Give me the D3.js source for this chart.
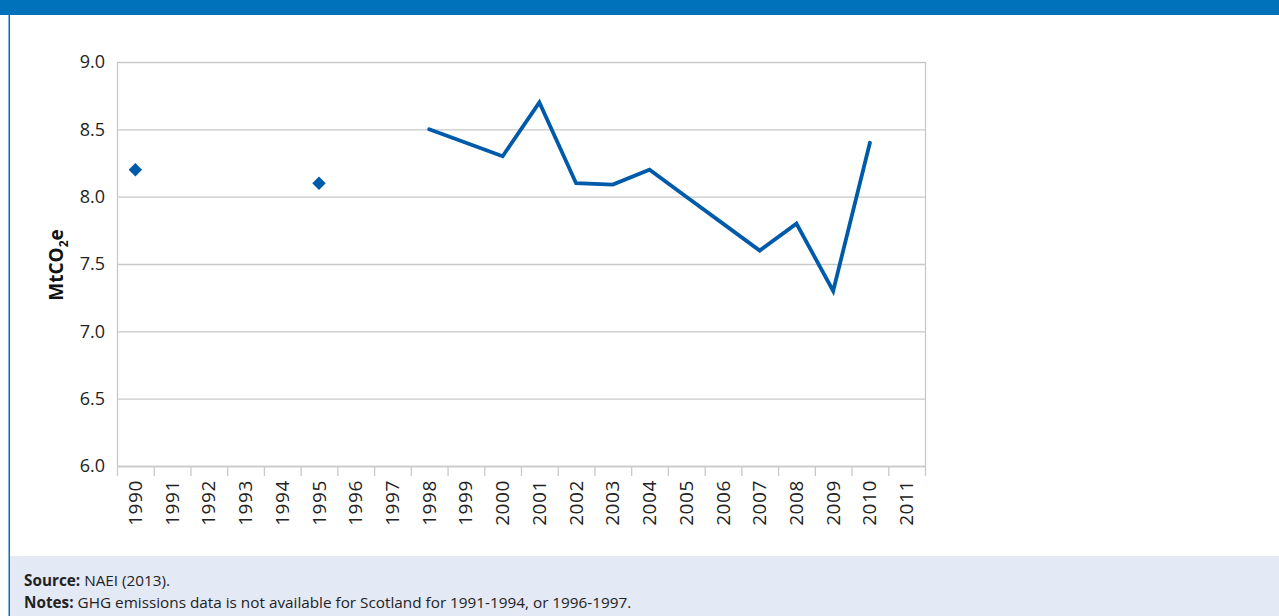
<!DOCTYPE html>
<html><head><meta charset="utf-8">
<script src="https://cdn.jsdelivr.net/npm/d3@7"></script>
<style>body{margin:0;background:#fff;overflow:hidden}svg{display:block}</style>
</head><body>
<svg id="c" width="1279" height="616"></svg>
<script>
const years = ["1990","1991","1992","1993","1994","1995","1996","1997","1998","1999","2000","2001","2002","2003","2004","2005","2006","2007","2008","2009","2010","2011"];
const emissions = [8.2,null,null,null,null,8.1,null,null,8.5,8.4,8.3,8.7,8.1,8.09,8.2,8.0,7.8,7.6,7.8,7.3,8.4,null];
const yTicks = [6.0,6.5,7.0,7.5,8.0,8.5,9.0];
const footer = [
  {label:"Source:", text:"NAEI (2013)."},
  {label:"Notes:", text:"GHG emissions data is not available for Scotland for 1991-1994, or 1996-1997."}
];

const svg = d3.select("#c");
const W=1279,H=616;
const blue="#0072bc", lineBlue="#005aaa";
svg.append("rect").attr("x",0).attr("y",0).attr("width",W).attr("height",15).attr("fill",blue);
svg.append("rect").attr("x",8.5).attr("y",15).attr("width",1.5).attr("height",H-15).attr("fill",blue);
svg.append("rect").attr("x",10).attr("y",556).attr("width",W-10).attr("height",60).attr("fill","#e4e9f6");

const m={l:117,r:925,t:62,b:466};
const x=d3.scaleBand().domain(years).range([m.l,m.r]);
const y=d3.scaleLinear().domain([6,9]).range([m.b,m.t]);

const g=svg.append("g");
g.selectAll(".grid").data(yTicks).enter().append("line")
 .attr("x1",m.l).attr("x2",m.r).attr("y1",d=>y(d)+0.5).attr("y2",d=>y(d)+0.5)
 .attr("stroke","#c9c9c9").attr("stroke-width",1.3);
g.append("line").attr("x1",m.r+0.5).attr("x2",m.r+0.5).attr("y1",m.t).attr("y2",m.b).attr("stroke","#c9c9c9").attr("stroke-width",1.3);
g.append("line").attr("x1",m.l+0.5).attr("x2",m.l+0.5).attr("y1",m.t).attr("y2",m.b).attr("stroke","#c9c9c9").attr("stroke-width",1.3);

const yAxis=d3.axisLeft(y).tickValues(yTicks).tickFormat(d3.format(".1f")).tickSize(0).tickPadding(12);
const ya=g.append("g").attr("transform",`translate(${m.l},0)`).call(yAxis);
ya.select(".domain").remove();
ya.selectAll("text").attr("font-family","Open Sans").attr("font-size",18).attr("fill","#222");

const xa=g.append("g").attr("transform",`translate(0,${m.b})`);
const bounds=years.map(d=>x(d)).concat([m.r]);
xa.selectAll(".tk").data(bounds).enter().append("line")
  .attr("x1",d=>d+0.5).attr("x2",d=>d+0.5).attr("y1",0).attr("y2",10).attr("stroke","#c9c9c9").attr("stroke-width",1.3);
xa.append("line").attr("x1",m.l).attr("x2",m.r).attr("y1",0.5).attr("y2",0.5).attr("stroke","#c9c9c9").attr("stroke-width",1.3);
xa.selectAll(".lbl").data(years).enter().append("text")
  .attr("transform",d=>`translate(${x(d)+x.bandwidth()/2+6.5},14) rotate(-90)`)
  .attr("text-anchor","end").attr("font-family","Open Sans").attr("font-size",19).attr("letter-spacing",0.6).attr("fill","#222").text(d=>d);

const yt=svg.append("text").attr("transform","translate(63,265) rotate(-90)").attr("text-anchor","middle")
 .attr("font-family","Open Sans").attr("font-weight","bold").attr("font-size",19).attr("fill","#111");
yt.append("tspan").text("MtCO");
yt.append("tspan").attr("font-size",12).attr("dy",5).text("2");
yt.append("tspan").attr("dy",-5).text("e");

const pts=years.map((d,i)=>({d,v:emissions[i]}));
const line=d3.line().defined(p=>p.v!=null).x(p=>x(p.d)+x.bandwidth()/2).y(p=>y(p.v));
const lineData=pts.filter(p=>+p.d>=1998);
g.append("path").datum(lineData).attr("d",line).attr("fill","none").attr("stroke",lineBlue).attr("stroke-width",3.8).attr("stroke-linejoin","miter").attr("stroke-linecap","round");
const isolated=pts.filter((p,i)=>p.v!=null && (i===0||emissions[i-1]==null) && (i===pts.length-1||emissions[i+1]==null));
g.selectAll(".dm").data(isolated).enter().append("path")
 .attr("d",d3.symbol().type(d3.symbolDiamond2).size(115))
 .attr("transform",p=>`translate(${x(p.d)+x.bandwidth()/2},${y(p.v)})`).attr("fill",lineBlue);

const ft=svg.append("g").attr("font-family","Open Sans").attr("font-size",15.3).attr("fill","#222");
footer.forEach((f,i)=>{
  const yy=586+i*21.5;
  const b=ft.append("text").attr("x",24).attr("y",yy).attr("font-weight","bold").text(f.label);
  const w=b.node().getComputedTextLength();
  ft.append("text").attr("x",24+w+4).attr("y",yy).text(f.text);
});
</script>
</body></html>
